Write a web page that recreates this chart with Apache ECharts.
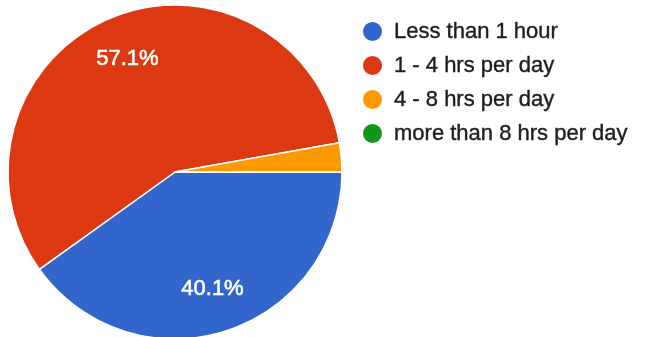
<!DOCTYPE html>
<html>
<head>
<meta charset="utf-8">
<script src="https://cdn.jsdelivr.net/npm/echarts@6/dist/echarts.min.js"></script>
<style>
  html, body { margin: 0; padding: 0; background: #fff; }
  #chart { width: 645px; height: 337px; }
</style>
</head>
<body>
<div id="chart"></div>
<script>
// Daily usage survey: share of respondents per time band
const categories = ['Less than 1 hour', '1 - 4 hrs per day', '4 - 8 hrs per day', 'more than 8 hrs per day'];
const shares = [40.1, 57.1, 2.8, 0];
const colors = ['#3366CC', '#DC3912', '#FF9900', '#109618'];

const FONT = 'Arial, "Liberation Sans", sans-serif';
const total = shares.reduce((a, b) => a + b, 0);

const slices = categories.map((name, i) => ({
  name: name,
  value: shares[i],
  itemStyle: { color: colors[i] }
}));

// Percent labels only for slices large enough to hold them
const labelSlices = categories.map((name, i) => ({
  name: name,
  value: shares[i],
  label: { show: shares[i] / total > 0.05 }
}));

const chart = echarts.init(document.getElementById('chart'), null, { renderer: 'canvas' });
chart.setOption({
  animation: false,
  color: colors,
  legend: {
    data: categories,
    orient: 'vertical',
    left: 356,
    top: 15,
    icon: 'circle',
    itemWidth: 21,
    itemHeight: 21,
    itemGap: 11,
    selectedMode: false,
    textStyle: {
      fontFamily: FONT,
      fontSize: 22,
      lineHeight: 22,
      color: '#1e1e1e',
      textBorderColor: '#1e1e1e',
      textBorderWidth: 0.4,
      padding: [0, 0, 0, 6]
    }
  },
  series: [
    {
      type: 'pie',
      center: [175, 172],
      radius: 167,
      startAngle: 0,
      clockwise: true,
      minAngle: 0,
      avoidLabelOverlap: false,
      stillShowZeroSum: true,
      label: { show: false },
      labelLine: { show: false },
      itemStyle: { borderColor: '#fff', borderWidth: 1.5 },
      emphasis: { disabled: true },
      data: slices
    },
    {
      // transparent ring carrying the percentage labels further out
      type: 'pie',
      center: [175, 172],
      radius: [72, 167],
      startAngle: 0,
      clockwise: true,
      silent: true,
      legendHoverLink: false,
      avoidLabelOverlap: false,
      itemStyle: { color: 'rgba(0,0,0,0)', borderWidth: 0 },
      labelLine: { show: false },
      label: {
        position: 'inside',
        formatter: p => p.value.toFixed(1) + '%',
        color: '#fff',
        fontFamily: FONT,
        fontSize: 22,
        fontWeight: 'normal',
        textBorderColor: '#fff',
        textBorderWidth: 0.6,
        padding: [6, 0, 0, 0]
      },
      emphasis: { disabled: true },
      data: labelSlices
    }
  ]
});
</script>
</body>
</html>
